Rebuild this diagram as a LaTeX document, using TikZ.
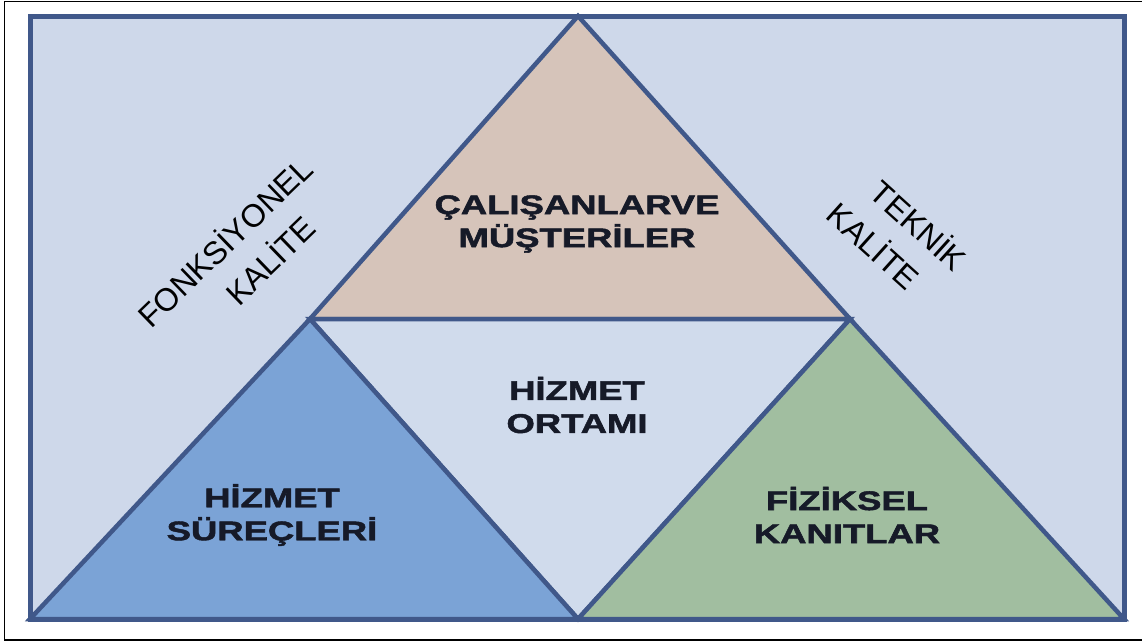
\documentclass[tikz,border=0pt]{standalone}
\usepackage{fontspec}
\usepackage{graphicx}
\setmainfont{Liberation Sans}
\newfontfamily\heavyfont[BoldFeatures={FakeBold=1.6}]{Liberation Sans}
\newcommand\widen[1]{\scalebox{1.35}[1]{#1}}

\definecolor{bgblue}{RGB}{206,216,234}
\definecolor{edgeblue}{RGB}{64,88,138}
\definecolor{tan}{RGB}{214,196,186}
\definecolor{midblue}{RGB}{123,163,214}
\definecolor{sage}{RGB}{161,190,160}
\definecolor{paleblue}{RGB}{208,219,236}
\definecolor{ink}{RGB}{22,26,40}

\tikzset{
  panel/.style={draw=edgeblue, line width=4.5pt, line join=miter},
  title/.style={font=\heavyfont\bfseries\fontsize{27}{33}\selectfont, text=ink,
                align=center, inner sep=0pt},
  side/.style={font=\fontsize{32}{45}\selectfont, text=black, inner sep=0pt,
               align=center},
}

\begin{document}
\begin{tikzpicture}[x=1pt, y=-1pt]
  \useasboundingbox (0,0) rectangle (1142,643);
  \fill[white] (0,0) rectangle (1142,643);
  % outer frame
  \draw[black, line width=1.6pt] (4.5,1.5) rectangle (1143,640);

  % corner points of the figure
  \coordinate (tl) at (30,16);
  \coordinate (tr) at (1124,16);
  \coordinate (bl) at (30,619);
  \coordinate (br) at (1124,619);
  \coordinate (apex) at (578,16);
  \coordinate (ml) at (310,319);
  \coordinate (mr) at (850,319);
  \coordinate (bm) at (578,619);

  % background panel
  \fill[bgblue] (tl) rectangle (br);

  % four triangles
  \filldraw[fill=tan, panel] (apex) -- (mr) -- (ml) -- cycle;
  \filldraw[fill=paleblue, panel] (ml) -- (mr) -- (bm) -- cycle;
  \filldraw[fill=midblue, panel] (bl) -- (ml) -- (bm) -- cycle;
  \filldraw[fill=sage, panel] (bm) -- (mr) -- (br) -- cycle;

  % outer border on top
  \draw[draw=edgeblue, line width=5pt] (tl) rectangle (br);

  % labels inside the triangles
  \node[title] (staff) at (577,224) {\widen{ÇALIŞANLARVE}\\\widen{MÜŞTERİLER}};
  \node[title] (env) at (577,405) {\widen{HİZMET}\\\widen{ORTAMI}};
  \node[title] (proc) at (272,515) {\widen{HİZMET}\\\widen{SÜREÇLERİ}};
  \node[title] (phys) at (847,515) {\widen{FİZİKSEL}\\\widen{KANITLAR}};

  % side captions
  \node[side, rotate=44] (func) at (239,257) {FONKSİYONEL\\\hspace*{40pt}KALİTE};
  \node[side, rotate=-42] (tech) at (905,241) {TEKNİK\\KALİTE\hspace*{40pt}};
\end{tikzpicture}
\end{document}
